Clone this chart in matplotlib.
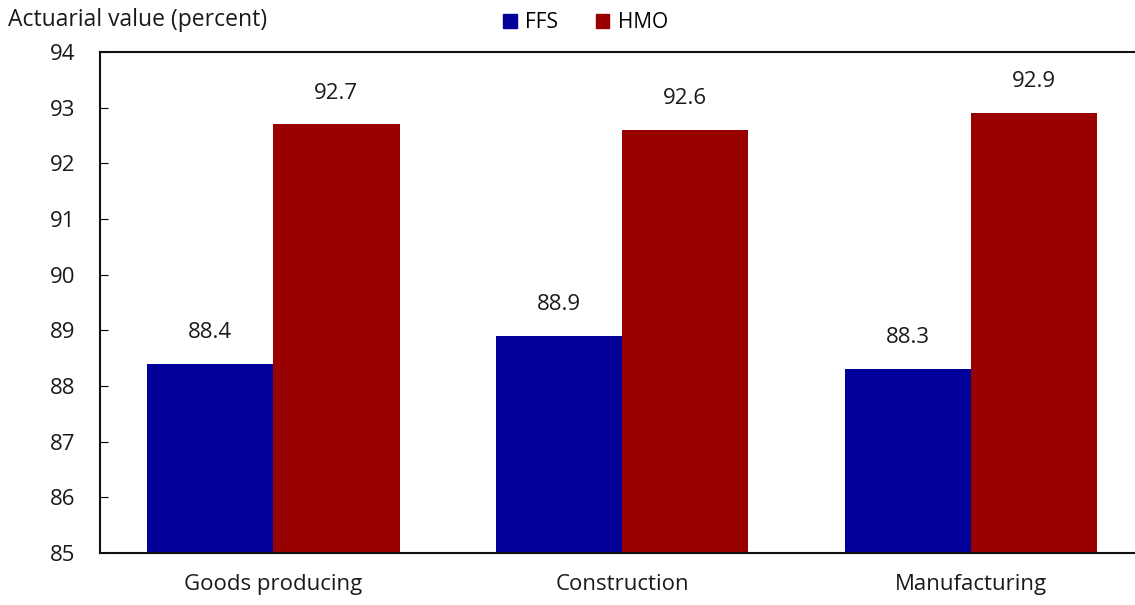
import matplotlib.pyplot as plt
import numpy as np
from matplotlib.patches import Patch

plt.rcParams['font.family'] = ['Open Sans', 'DejaVu Sans']

categories = ["Goods producing", "Construction", "Manufacturing"]
ffs = [88.4, 88.9, 88.3]
hmo = [92.7, 92.6, 92.9]
y_ticks = [85, 86, 87, 88, 89, 90, 91, 92, 93, 94]

FFS_COLOR = "#000099"
HMO_COLOR = "#990000"
TEXT_COLOR = "#1a1a1a"

fig = plt.figure(figsize=(11.35, 6.05), dpi=100)
ax = fig.add_axes([0.088, 0.086, 0.912, 0.828])

x = np.arange(len(categories))
w = 0.362
bars_ffs = ax.bar(x - w / 2, ffs, w, bottom=0, color=FFS_COLOR)
bars_hmo = ax.bar(x + w / 2, hmo, w, bottom=0, color=HMO_COLOR)

for bars, vals in ((bars_ffs, ffs), (bars_hmo, hmo)):
    for b, v in zip(bars, vals):
        ax.annotate(f"{v:.1f}", (b.get_x() + b.get_width() / 2, v),
                    xytext=(0, 15), textcoords="offset points",
                    ha="center", va="bottom", fontsize=16, color=TEXT_COLOR)

ax.set_ylim(85, 94)
ax.set_xlim(-0.497, 2.47)
ax.set_yticks(y_ticks)
ax.set_xticks(x)
ax.set_xticklabels(categories)
ax.tick_params(axis="y", direction="in", length=6, labelsize=16, pad=18,
               labelcolor=TEXT_COLOR)
ax.tick_params(axis="x", length=0, labelsize=16, pad=15, labelcolor=TEXT_COLOR)
ax.spines["right"].set_visible(False)
for s in ("left", "top", "bottom"):
    ax.spines[s].set_linewidth(1.5)
    ax.spines[s].set_color("#111111")

fig.text(0.007, 0.967, "Actuarial value (percent)", fontsize=16.5,
         ha="left", va="center", color=TEXT_COLOR)

handles = [Patch(color=FFS_COLOR, label="FFS"), Patch(color=HMO_COLOR, label="HMO")]
fig.legend(handles=handles, loc="center", bbox_to_anchor=(0.516, 0.963), ncol=2,
           frameon=False, fontsize=15, handlelength=0.65, handleheight=0.65,
           handletextpad=0.4, columnspacing=1.8)

fig.savefig("out.png", dpi=100)
